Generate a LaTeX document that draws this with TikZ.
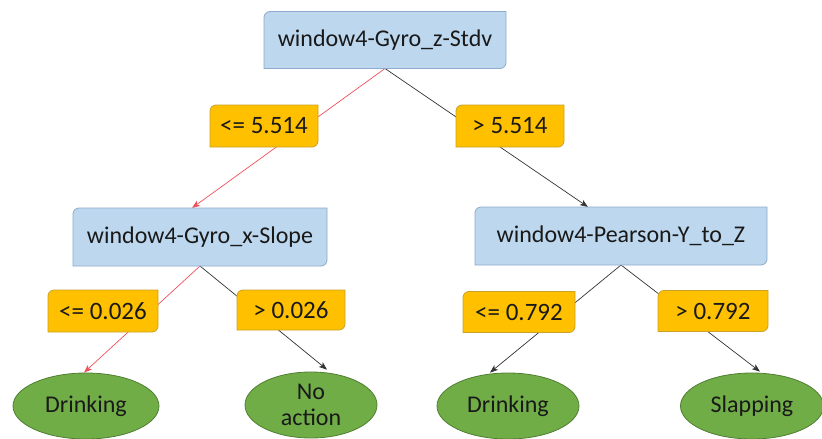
\documentclass[tikz,border=0pt]{standalone}
\usepackage{fontspec}
\setmainfont{Carlito}
\usetikzlibrary{shapes.geometric,arrows.meta}
\pgfdeclarelayer{lines}
\pgfdeclarelayer{boxes}
\pgfsetlayers{lines,boxes,main}
\definecolor{boxfill}{HTML}{BDD7EE}
\definecolor{boxline}{HTML}{8EAACC}
\definecolor{labfill}{HTML}{FFC000}
\definecolor{labline}{HTML}{C9A227}
\definecolor{leaffill}{HTML}{70AD47}
\definecolor{leafline}{HTML}{507E32}
\definecolor{redline}{HTML}{F0505A}
\definecolor{darkline}{HTML}{333333}
\tikzset{
  txt/.style={text=black!90, inner sep=0pt},
  splitbox/.style={txt, font=\fontsize{24}{27}\selectfont},
  labbox/.style={txt, font=\fontsize{25}{28}\selectfont},
  leaf/.style={txt, ellipse, draw=leafline, fill=leaffill, line width=0.8pt, align=center, font=\fontsize{24}{26}\selectfont},
  conn/.style={line width=0.7pt, -{Stealth[length=8pt,width=6pt,inset=2pt]}},
}
\newcommand\clipcorner[4]{% name, width, height, style
  \begin{pgfonlayer}{boxes}
  \path[#4] ([xshift=-#2/2+6pt,yshift=#3/2]#1.center) -- ([xshift=#2/2,yshift=#3/2]#1.center)
    -- ([xshift=#2/2,yshift=-#3/2+6pt]#1.center) arc[start angle=0,end angle=-90,radius=6pt]
    -- ([xshift=-#2/2,yshift=-#3/2]#1.center) -- ([xshift=-#2/2,yshift=#3/2-6pt]#1.center)
    arc[start angle=180,end angle=90,radius=6pt] -- cycle;
  \end{pgfonlayer}}
\begin{document}
\begin{tikzpicture}[x=1pt,y=-1pt]
\useasboundingbox (0,0) rectangle (822,439);
\node[splitbox] (root) at (385,40) {window4-Gyro\_z-Stdv};
\node[labbox] (l1) at (264,126) {<= 5.514};
\node[labbox] (r1) at (510,126) {> 5.514};
\node[splitbox] (lm) at (200,237) {window4-Gyro\_x-Slope};
\node[splitbox] (rm) at (621,236) {window4-Pearson-Y\_to\_Z};
\node[labbox] (ll) at (103,311) {<= 0.026};
\node[labbox] (lr) at (291,310) {> 0.026};
\node[labbox] (rl) at (519,312) {<= 0.792};
\node[labbox] (rr) at (713,311) {> 0.792};
\node[leaf, minimum width=146pt, minimum height=66pt] (e1) at (86,406) {Drinking};
\node[leaf, minimum width=132pt, minimum height=66pt] (e2) at (311,405) {No\\action};
\node[leaf, minimum width=142pt, minimum height=66pt] (e3) at (508,406) {Drinking};
\node[leaf, minimum width=143pt, minimum height=66pt] (e4) at (752,406) {Slapping};
\clipcorner{root}{242pt}{57pt}{fill=boxfill,draw=boxline,line width=0.8pt}
\clipcorner{lm}{254pt}{58pt}{fill=boxfill,draw=boxline,line width=0.8pt}
\clipcorner{rm}{292pt}{58pt}{fill=boxfill,draw=boxline,line width=0.8pt}
\clipcorner{l1}{108pt}{42pt}{fill=labfill,draw=labline,line width=0.8pt}
\clipcorner{r1}{108pt}{42pt}{fill=labfill,draw=labline,line width=0.8pt}
\clipcorner{ll}{110pt}{42pt}{fill=labfill,draw=labline,line width=0.8pt}
\clipcorner{lr}{108pt}{40pt}{fill=labfill,draw=labline,line width=0.8pt}
\clipcorner{rl}{112pt}{41pt}{fill=labfill,draw=labline,line width=0.8pt}
\clipcorner{rr}{110pt}{41pt}{fill=labfill,draw=labline,line width=0.8pt}
\begin{pgfonlayer}{lines}
\draw[conn, redline] ([yshift=-28.5pt]root.center) -- ([xshift=-8pt,yshift=29pt]lm.center);
\draw[conn, darkline] ([yshift=-28.5pt]root.center) -- ([xshift=-33pt,yshift=29pt]rm.center);
\draw[conn, redline] ([yshift=-29pt]lm.center) -- ([xshift=-2pt]e1.north);
\draw[conn, darkline] ([yshift=-29pt]lm.center) -- ([xshift=16pt,yshift=2pt]e2.north);
\draw[conn, darkline] ([yshift=-29pt]rm.center) -- ([xshift=-18pt]e3.north);
\draw[conn, darkline] ([yshift=-29pt]rm.center) -- ([xshift=8pt,yshift=1pt]e4.north);
\end{pgfonlayer}
\end{tikzpicture}
\end{document}
